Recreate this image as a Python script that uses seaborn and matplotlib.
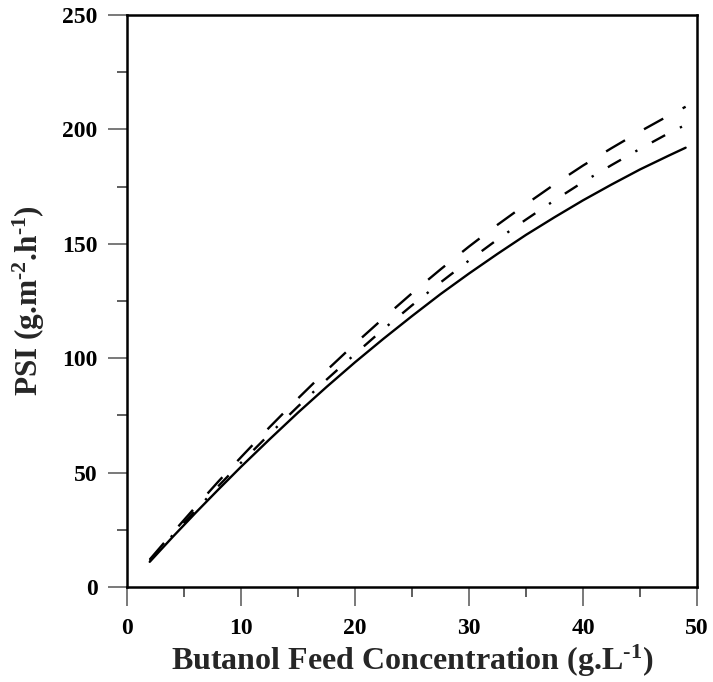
import matplotlib
matplotlib.use("Agg")
import matplotlib.pyplot as plt
from matplotlib.ticker import MultipleLocator
import pandas as pd
import seaborn as sns

# Butanol feed concentration (g/L) and PSI (g m^-2 h^-1) for three cases
conc = [2, 4, 6, 8, 10, 12.5, 15, 17.5, 20, 22.5, 25, 27.5, 30,
        32.5, 35, 37.5, 40, 42.5, 45, 47.5, 49]
psi_solid = [11.0, 21.8, 32.3, 42.5, 52.5, 64.5, 76.2, 87.4, 98.2, 108.5, 118.4,
             128.0, 137.0, 145.6, 153.9, 161.6, 169.0, 175.9, 182.5, 188.5, 192.0]
psi_dashdot = [11.5, 22.6, 33.4, 44.0, 54.3, 66.8, 78.9, 90.6, 101.8, 112.7, 123.1,
               133.1, 142.7, 151.9, 160.6, 169.0, 177.0, 184.4, 191.5, 198.3, 202.0]
psi_dashed = [12.0, 23.6, 34.9, 46.0, 56.7, 69.8, 82.4, 94.6, 106.3, 117.5, 128.4,
              138.8, 148.8, 158.3, 167.3, 176.0, 184.2, 191.8, 199.1, 206.0, 209.9]

x_ticks = [0, 10, 20, 30, 40, 50]
y_ticks = [0, 50, 100, 150, 200, 250]

df = pd.DataFrame({
    "conc": conc * 3,
    "psi": psi_solid + psi_dashdot + psi_dashed,
    "case": ["a"] * len(conc) + ["b"] * len(conc) + ["c"] * len(conc),
})

sns.set_theme(style="ticks")
plt.rcParams["font.family"] = ["Liberation Serif", "DejaVu Serif"]
plt.rcParams["font.weight"] = "bold"
plt.rcParams["mathtext.fontset"] = "custom"
plt.rcParams["mathtext.rm"] = "Liberation Serif:bold"
plt.rcParams["mathtext.bf"] = "Liberation Serif:bold"

fig = plt.figure(figsize=(7.13, 6.82), dpi=100)
ax = fig.add_axes([0.178, 0.1393, 0.7996, 0.8387])

sns.lineplot(
    data=df, x="conc", y="psi", style="case", color="black",
    dashes={"a": "", "b": (6.4, 7.0, 1.0, 7.0), "c": (9.3, 9.3)},
    linewidth=1.7, legend=False, ax=ax,
)

ax.set_xlim(0, 50)
ax.set_ylim(0, 250)
ax.set_xticks(x_ticks)
ax.set_yticks(y_ticks)
ax.set_xticklabels([str(v) for v in x_ticks], fontsize=17, fontweight="bold")
ax.set_yticklabels([str(v) for v in y_ticks], fontsize=17, fontweight="bold")
ax.xaxis.set_minor_locator(MultipleLocator(5))
ax.yaxis.set_minor_locator(MultipleLocator(25))
ax.tick_params(which="major", direction="out", length=14, width=1.1, colors="#555555",
               labelcolor="black")
ax.tick_params(axis="x", which="major", pad=8)
ax.tick_params(axis="y", which="major", pad=7)
ax.tick_params(which="minor", direction="out", length=7, width=1.1, colors="#333333")

for sp in ax.spines.values():
    sp.set_color("black")
    sp.set_linewidth(1.8)
    sp.set_visible(True)

ax.set_xlabel(r"Butanol Feed Concentration (g.L$\mathregular{^{\text{-}1}}$)", fontsize=23,
              fontweight="bold", labelpad=3)
ax.set_ylabel(r"PSI (g.m$\mathregular{^{\text{-}2}}$.h$\mathregular{^{\text{-}1}}$)",
              fontsize=22.5, fontweight="bold", labelpad=11)

fig.savefig("out.png", dpi=100)
